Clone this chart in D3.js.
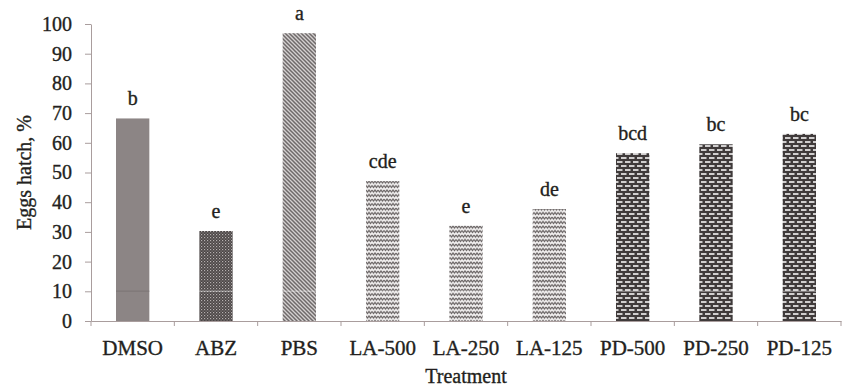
<!DOCTYPE html>
<html><head><meta charset="utf-8">
<script src="https://cdn.jsdelivr.net/npm/d3@7"></script>
<style>body{margin:0;background:#fff}svg{display:block}</style>
</head><body>
<svg id="c" width="849" height="387"></svg>
<script>
const categories = ["DMSO","ABZ","PBS","LA-500","LA-250","LA-125","PD-500","PD-250","PD-125"];
const values = [68.2, 30.3, 96.9, 47.1, 32.1, 37.7, 56.5, 59.5, 63.0];
const letters = ["b","e","a","cde","e","de","bcd","bc","bc"];
const fills = ["solid","checker","diag","wave","wave","wave","brick","brick","brick"];
const yTicks = [0,10,20,30,40,50,60,70,80,90,100];

const svg = d3.select("#c");
const m = {l:91, r:841, t:24, b:321};
const x = d3.scaleBand().domain(categories).range([m.l, m.r]).padding(0);
const y = d3.scaleLinear().domain([0,100]).range([m.b, m.t]);
const axisCol = "#a99d9d";
const txtCol = "#231f20";
const serif = '"Liberation Serif"';
function styleText(sel, size){
  sel.style("font-family",serif).style("font-size",size+"px").style("fill",txtCol)
     .style("stroke",txtCol).style("stroke-width","0.35px");
}

const defs = svg.append("defs");
let p = defs.append("pattern").attr("id","checker").attr("patternUnits","userSpaceOnUse").attr("width",3).attr("height",3);
p.append("rect").attr("width",3).attr("height",3).attr("fill","#4a4545");
p.append("rect").attr("x",0).attr("y",0).attr("width",1.2).attr("height",1.2).attr("fill","#b5b0b0");
p.append("rect").attr("x",1.5).attr("y",1.5).attr("width",1.2).attr("height",1.2).attr("fill","#8a8585");
p = defs.append("pattern").attr("id","diag").attr("patternUnits","userSpaceOnUse").attr("width",4).attr("height",4);
p.append("rect").attr("width",4).attr("height",4).attr("fill","#d4d0d0");
p.append("path").attr("d","M-1,-1 L5,5 M-1,3 L1,5 M3,-1 L5,1").attr("stroke","#6f6a6a").attr("stroke-width",1.5);
p = defs.append("pattern").attr("id","wave").attr("patternUnits","userSpaceOnUse").attr("width",6).attr("height",4.5);
p.append("rect").attr("width",6).attr("height",4.5).attr("fill","#f2f0f0");
p.append("path").attr("d","M0,1 L1.5,3 L3,1 L4.5,3 L6,1").attr("stroke","#6a6565").attr("stroke-width",1.3).attr("fill","none");
p = defs.append("pattern").attr("id","brick").attr("patternUnits","userSpaceOnUse").attr("width",8).attr("height",8);
p.append("rect").attr("width",8).attr("height",8).attr("fill","#3f3a3a");
p.append("rect").attr("x",1).attr("y",1.2).attr("width",5.5).attr("height",1.6).attr("fill","#f4f2f2");
p.append("rect").attr("x",5).attr("y",5.2).attr("width",5.5).attr("height",1.6).attr("fill","#f4f2f2");
p.append("rect").attr("x",-3).attr("y",5.2).attr("width",5.5).attr("height",1.6).attr("fill","#f4f2f2");

const bw = x.bandwidth()*0.4;
const bars = svg.append("g");
bars.selectAll("rect").data(categories).join("rect")
  .attr("x", (d)=> x(d) + x.bandwidth()/2 - bw/2)
  .attr("y", (d,i)=> y(values[i]))
  .attr("width", bw)
  .attr("height", (d,i)=> y(0)-y(values[i]))
  .attr("fill", (d,i)=> fills[i]==="solid" ? "#8c8585" : `url(#${fills[i]})`);
bars.selectAll("line").data(categories).join("line")
  .attr("x1", d=> x(d) + x.bandwidth()/2 - bw/2)
  .attr("x2", d=> x(d) + x.bandwidth()/2 + bw/2)
  .attr("y1", y(10)).attr("y2", y(10))
  .attr("stroke", (d,i)=> fills[i]==="solid" ? "#7a7373" : "#ffffff")
  .attr("stroke-opacity", (d,i)=> fills[i]==="solid" ? 0.6 : 0.35)
  .attr("stroke-width", 1.5);

styleText(svg.append("g").selectAll("text").data(categories).join("text")
  .attr("x", d=> x(d)+x.bandwidth()/2)
  .attr("y", (d,i)=> y(values[i]) - 13)
  .attr("text-anchor","middle")
  .text((d,i)=> letters[i]), 20);

const ya = svg.append("g").attr("transform",`translate(${m.l},0)`)
  .call(d3.axisLeft(y).tickValues(yTicks).tickSize(6).tickSizeOuter(0).tickPadding(13));
ya.select(".domain").attr("stroke",axisCol);
ya.selectAll(".tick line").attr("stroke",axisCol);
styleText(ya.selectAll(".tick text"), 20);

const xa = svg.append("g").attr("transform",`translate(0,${m.b})`)
  .call(d3.axisBottom(x).tickSize(0).tickPadding(19));
xa.select(".domain").attr("stroke",axisCol);
styleText(xa.selectAll(".tick text"), 21);
const bounds = categories.map(c=>x(c)).concat([x.range()[1]]);
xa.selectAll("line.bt").data(bounds).join("line").attr("class","bt")
  .attr("x1",d=>d).attr("x2",d=>d).attr("y1",0).attr("y2",5).attr("stroke",axisCol);

styleText(svg.append("text").attr("x",(m.l+m.r)/2).attr("y",383).attr("text-anchor","middle").text("Treatment"), 20);
styleText(svg.append("text").attr("transform",`translate(31,${(m.t+m.b)/2}) rotate(-90)`).attr("text-anchor","middle").text("Eggs hatch, %"), 20);
</script>
</body></html>
